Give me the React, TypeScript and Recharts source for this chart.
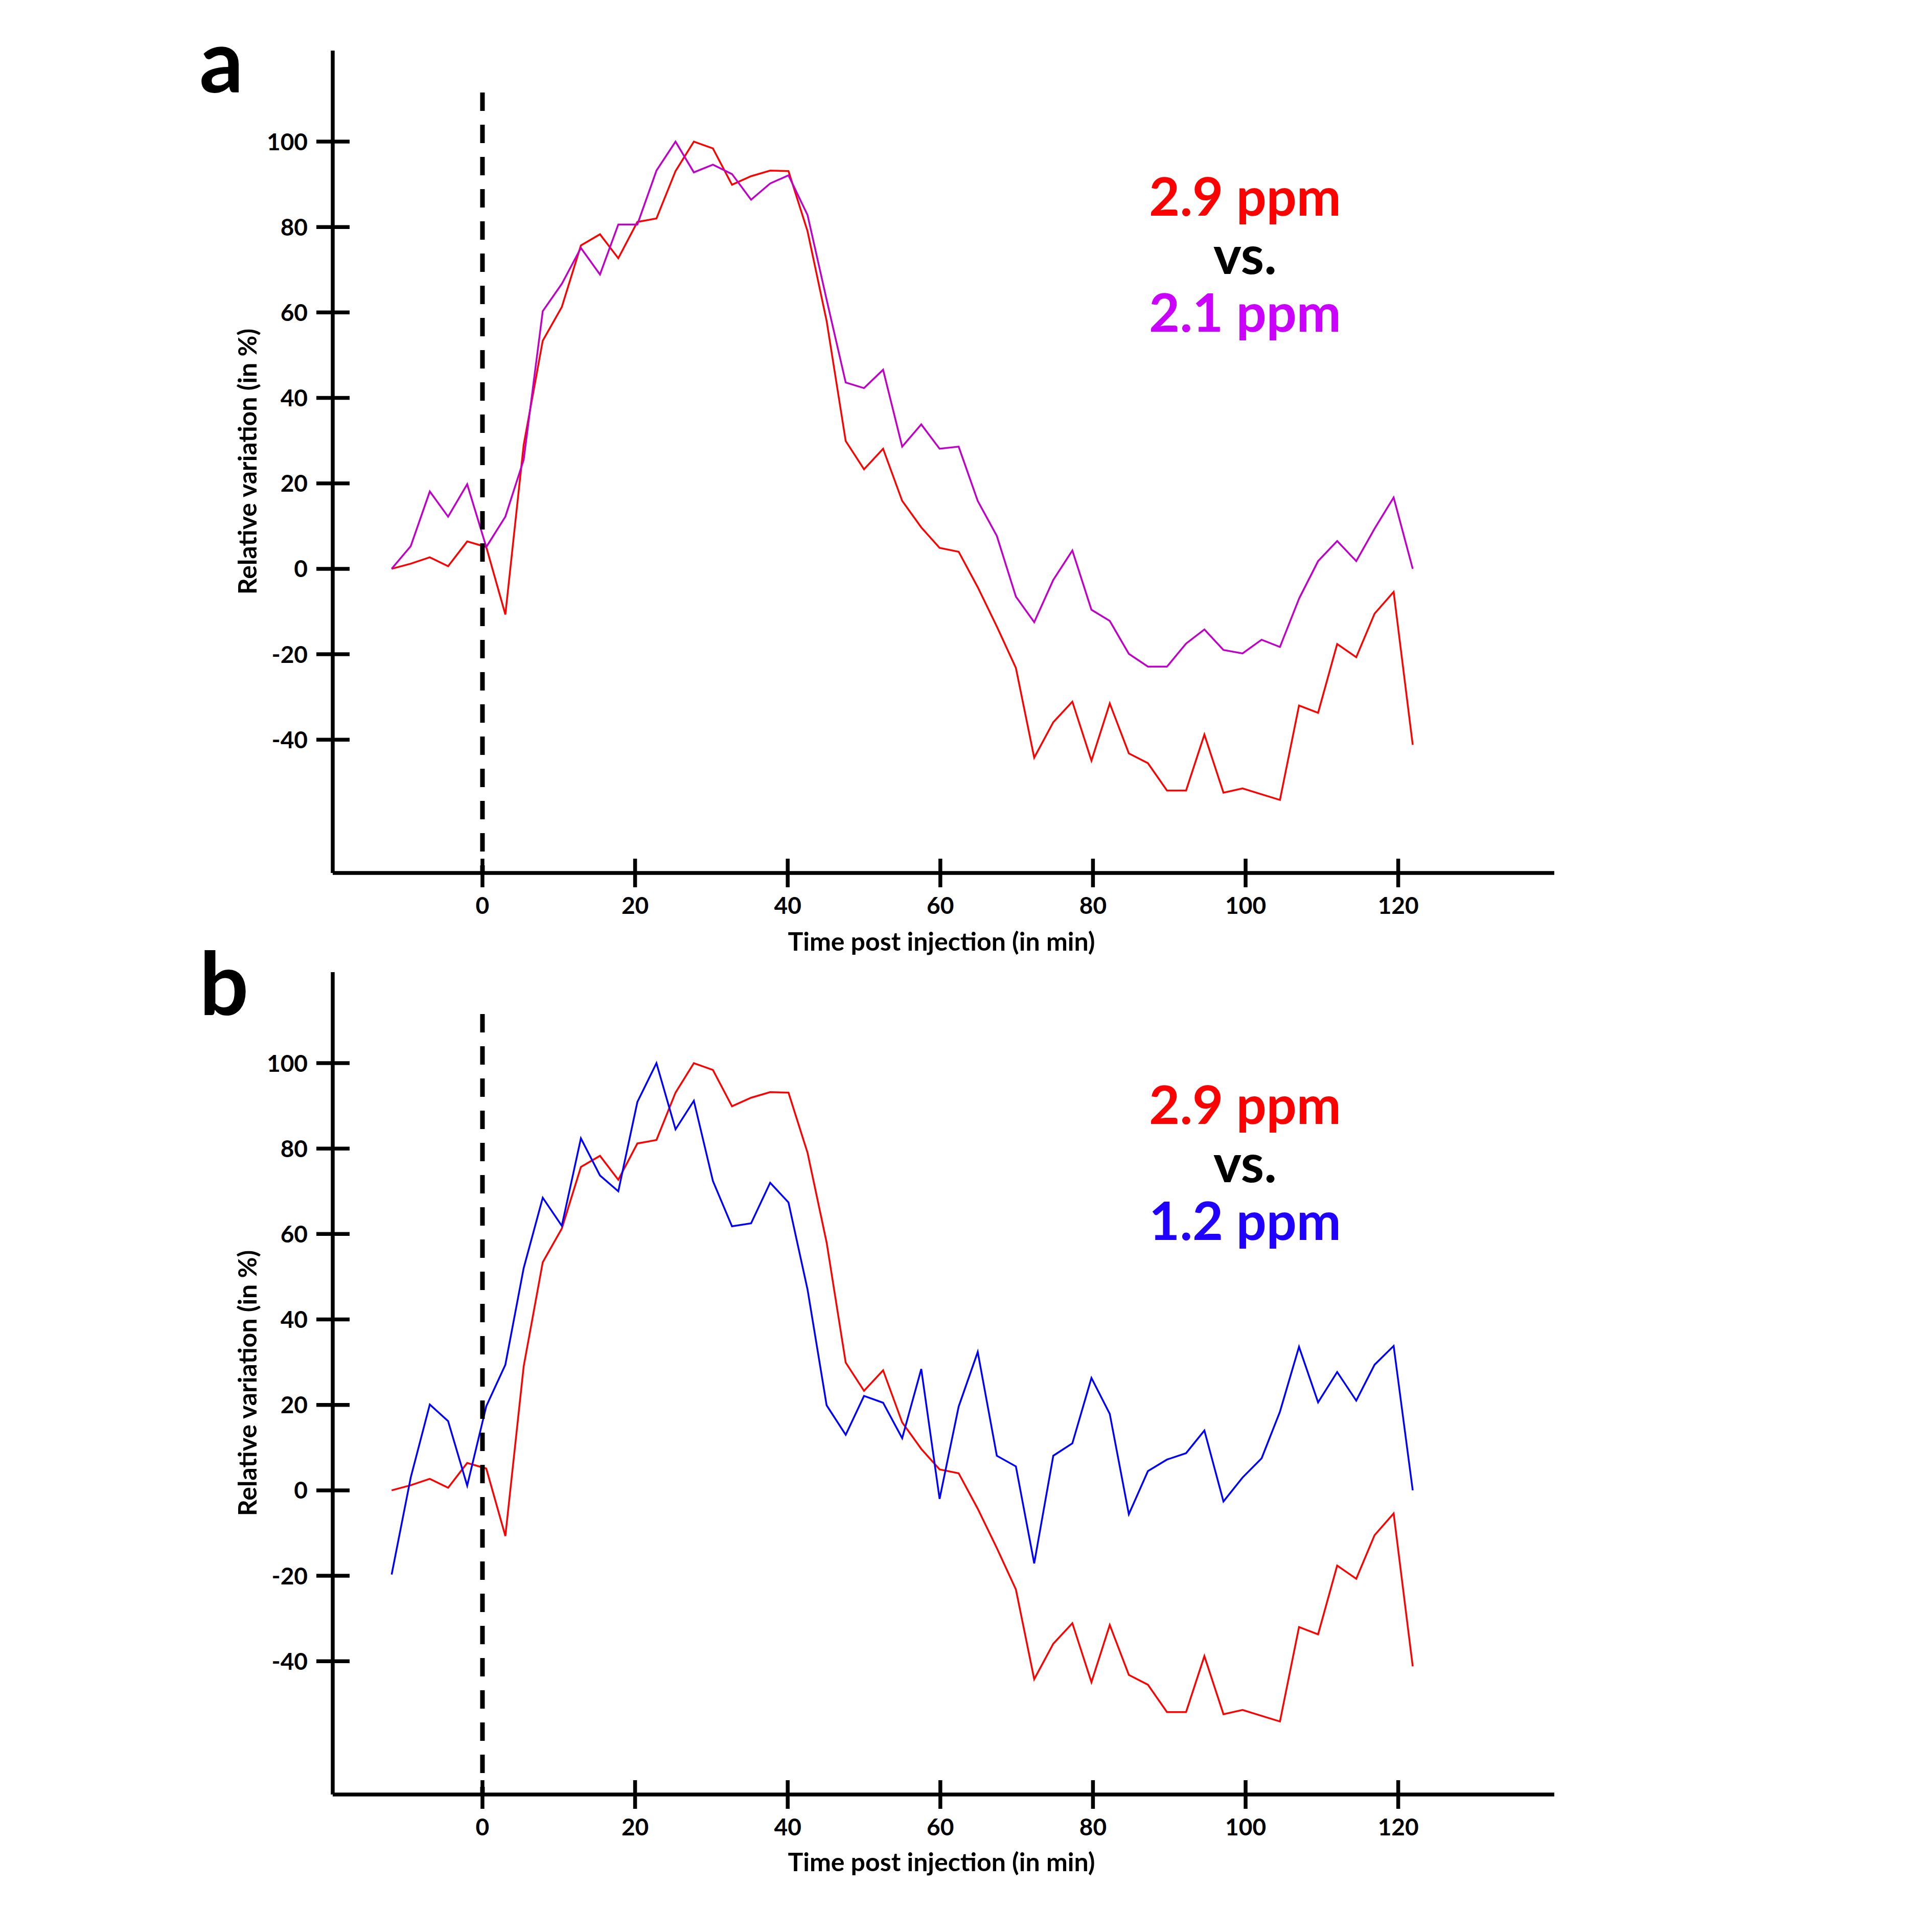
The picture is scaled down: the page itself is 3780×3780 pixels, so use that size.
import React from 'react';
import { LineChart, Line, XAxis, YAxis, ReferenceLine } from 'recharts';

// sampling times (min)
const times = [
  -11.9, -9.4, -6.9, -4.5, -2.0, 0.5, 3.0, 5.4, 7.9, 10.4,
  12.9, 15.4, 17.8, 20.3, 22.8, 25.3, 27.7, 30.2, 32.7, 35.2,
  37.7, 40.1, 42.6, 45.1, 47.6, 50.0, 52.5, 55.0, 57.5, 59.9,
  62.4, 64.9, 67.4, 69.9, 72.3, 74.8, 77.3, 79.8, 82.2, 84.7,
  87.2, 89.7, 92.2, 94.6, 97.1, 99.6, 102.1, 104.5, 107.0, 109.5,
  112.0, 114.5, 116.9, 119.4, 121.9,
];

// 2.9 ppm (red, same in both panels)
const ppm29 = [
  0, 1.2, 2.7, 0.6, 6.4, 5.1, -10.7, 29, 53.4, 61.3,
  75.7, 78.3, 72.7, 81.2, 82.0, 93.1, 100, 98.4, 89.9, 91.9,
  93.2, 93.1, 79, 58, 29.9, 23.3, 28.1, 15.9, 9.7, 4.9,
  4.0, -4.3, -13.5, -23.2, -44.2, -35.9, -31.1, -44.9, -31.5, -43.2,
  -45.5, -51.9, -51.9, -38.8, -52.4, -51.4, -52.8, -54.1, -32.0, -33.7,
  -17.6, -20.7, -10.5, -5.4, -41.2,
];

// 2.1 ppm (purple, panel a)
const ppm21 = [
  0, 5.3, 18.1, 12.2, 19.8, 5.1, 12.2, 25.5, 60.3, 66.7,
  75.1, 68.9, 80.6, 80.6, 93.2, 100, 92.8, 94.6, 92.4, 86.4,
  90.2, 92.1, 82.8, 63, 43.6, 42.3, 46.6, 28.6, 33.8, 28.1,
  28.6, 15.9, 7.7, -6.5, -12.5, -2.6, 4.3, -9.6, -12.2, -19.9,
  -22.9, -22.9, -17.5, -14.2, -19.0, -19.8, -16.6, -18.3, -7.0, 1.8,
  6.5, 1.8, 9.4, 16.7, 0,
];

// 1.2 ppm (blue, panel b)
const ppm12 = [
  -19.7, 3.0, 20.1, 16.2, 1.1, 19.7, 29.4, 52, 68.5, 61.9,
  82.4, 73.7, 70.0, 90.9, 100, 84.5, 91.2, 72.4, 61.8, 62.5,
  72.0, 67.4, 47, 19.9, 13.0, 22.1, 20.5, 12.2, 28.4, -2.0,
  19.6, 32.4, 8.1, 5.6, -17.1, 8.1, 11.0, 26.3, 17.9, -5.6,
  4.5, 7.2, 8.7, 14.0, -2.6, 3.0, 7.5, 18.4, 33.6, 20.6,
  27.7, 21.0, 29.4, 33.8, 0,
];

const xTicks = [0, 20, 40, 60, 80, 100, 120];
const yTicks = [-40, -20, 0, 20, 40, 60, 80, 100];

const FONT = 'Lato, "Open Sans", sans-serif';
const W = 3780;
const H = 1900;
const PANEL_B_TOP = 1803;

function YTick(props: any) {
  const { x, y, payload } = props;
  return (
    <g>
      <line x1={x - 32} x2={x + 33} y1={y} y2={y} stroke="#000" strokeWidth={7.5} />
      <text
        x={x - 49}
        y={y + 16.5}
        textAnchor="end"
        fontFamily={FONT}
        fontWeight={700}
        fontSize={46}
        fill="#000"
      >
        {payload.value}
      </text>
    </g>
  );
}

function XTick(props: any) {
  const { x, y, payload } = props;
  return (
    <g>
      <line x1={x} x2={x} y1={y - 28} y2={y + 28} stroke="#000" strokeWidth={7.5} />
      <text
        x={x}
        y={y + 80}
        textAnchor="middle"
        fontFamily={FONT}
        fontWeight={700}
        fontSize={46}
        fill="#000"
      >
        {payload.value}
      </text>
    </g>
  );
}

function Panel({ other, color }: { other: number[]; color: string }) {
  const data = times.map((t, i) => ({ t, ref: ppm29[i], cmp: other[i] }));
  return (
    <LineChart width={W} height={H} data={data} margin={{ top: 99, right: 739, bottom: 0, left: 0 }}>
      <XAxis
        dataKey="t"
        type="number"
        domain={[-19.62, 140.45]}
        ticks={xTicks}
        height={192}
        tickSize={0}
        tickMargin={0}
        tickLine={false}
        axisLine={{ stroke: '#000', strokeWidth: 7.5 }}
        tick={<XTick />}
        interval={0}
      />
      <YAxis
        type="number"
        domain={[-71.2, 121.3]}
        ticks={yTicks}
        width={651}
        tickSize={0}
        tickMargin={0}
        tickLine={false}
        axisLine={{ stroke: '#000', strokeWidth: 7.5 }}
        tick={<YTick />}
        interval={0}
      />
      <Line
        type="linear"
        dataKey="ref"
        stroke="#FF0000"
        strokeWidth={3.5}
        dot={false}
        activeDot={false}
        isAnimationActive={false}
      />
      <Line
        type="linear"
        dataKey="cmp"
        stroke={color}
        strokeWidth={3.5}
        dot={false}
        activeDot={false}
        isAnimationActive={false}
      />
      <ReferenceLine
        segment={[
          { x: 0, y: 111.5 },
          { x: 0, y: -71.2 },
        ]}
        stroke="#000"
        strokeWidth={9}
        strokeDasharray="36 27"
      />
    </LineChart>
  );
}

function Texts({ dy, letter, titleDy, lowLabel, lowColor, ppmDy }: any) {
  const txt = { fontFamily: FONT, fontWeight: 700 } as const;
  return (
    <g>
      <text x={390} y={181 + dy + (letter === 'b' ? 2 : 0)} fontSize={170} fill="#000" {...txt}>
        {letter}
      </text>
      <text
        transform={`translate(502,${903 + dy}) rotate(-90)`}
        textAnchor="middle"
        fontSize={50}
        fill="#000"
        {...txt}
      >
        Relative variation (in %)
      </text>
      <text x={1842} y={1860 + titleDy} textAnchor="middle" fontSize={50} fill="#000" {...txt}>
        Time post injection (in min)
      </text>
      <text x={2436} y={422 + ppmDy} textAnchor="middle" fontSize={104} fill="#FF0000" {...txt}>
        2.9 ppm
      </text>
      <text x={2436} y={536 + ppmDy} textAnchor="middle" fontSize={104} fill="#000" {...txt}>
        vs.
      </text>
      <text x={2436} y={649 + ppmDy} textAnchor="middle" fontSize={104} fill={lowColor} {...txt}>
        {lowLabel}
      </text>
    </g>
  );
}

export default function App() {
  return (
    <div style={{ position: 'absolute', left: 0, top: 0, width: W, height: W, background: '#fff' }}>
      <div style={{ position: 'absolute', left: 0, top: 0 }}>
        <Panel other={ppm21} color="#C000C8" />
      </div>
      <div style={{ position: 'absolute', left: 0, top: PANEL_B_TOP }}>
        <Panel other={ppm12} color="#0000FF" />
      </div>
      <svg
        width={W}
        height={W}
        style={{ position: 'absolute', left: 0, top: 0, pointerEvents: 'none' }}
      >
        <Texts dy={0} titleDy={0} ppmDy={0} letter="a" lowLabel="2.1 ppm" lowColor="#CC00FF" />
        <Texts
          dy={PANEL_B_TOP}
          titleDy={PANEL_B_TOP - 2}
          ppmDy={1777}
          letter="b"
          lowLabel="1.2 ppm"
          lowColor="#2000FF"
        />
      </svg>
    </div>
  );
}
